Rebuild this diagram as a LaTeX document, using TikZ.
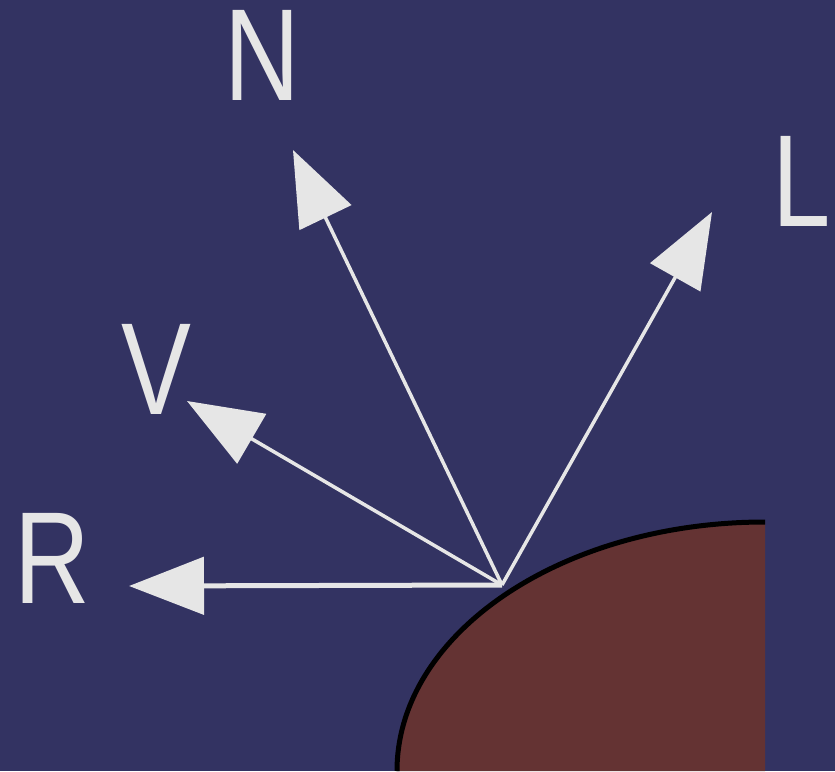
\documentclass[tikz,border=0pt]{standalone}
\usepackage{fontspec}
\usepackage{tikz}
\usetikzlibrary{arrows.meta,positioning}
\setmainfont{Liberation Sans}
\definecolor{nightblue}{HTML}{333362}
\definecolor{rustbrown}{HTML}{643333}
\definecolor{raywhite}{HTML}{E6E6E6}

\begin{document}
\begin{tikzpicture}[
    x=1pt, y=-1pt,
    ray/.style={
        -{Triangle[length=75pt,width=57pt]},
        line width=3.5pt,
        color=raywhite
    },
    vec/.style={
        inner sep=0pt,
        xscale=0.8,
        text=raywhite,
        font=\fontsize{131}{131}\selectfont
    },
    rim/.style={
        draw=black,
        line width=5pt
    }
]

% Background
\fill[nightblue] (0,0) rectangle (835,771);
\useasboundingbox (0,0) rectangle (835,771);

% Surface
\fill[rustbrown] (397,771) arc[start angle=180, end angle=270,
    x radius=368, y radius=249] -- (765,771) -- cycle;
\draw[rim] (397,771) arc[start angle=180, end angle=270,
    x radius=368, y radius=249];

% Hit point and ray ends
\coordinate (hit) at (502,585);
\coordinate (ntip) at (293,150);
\coordinate (ltip) at (712,212);
\coordinate (vtip) at (187,401);
\coordinate (rtip) at (129,586);

% Labels
\node[vec] (nlabel) at (262,55) {N};
\node[vec] (llabel) at (802,181) {L};
\node[vec] (vlabel) at (156,369) {V};
\node[vec] (rlabel) at (52,558) {R};

% Rays
\draw[ray] (hit) -- (ntip);
\draw[ray] (hit) -- (ltip);
\draw[ray] (hit) -- (vtip);
\draw[ray, line width=5pt] (hit) -- (rtip);

\end{tikzpicture}
\end{document}
